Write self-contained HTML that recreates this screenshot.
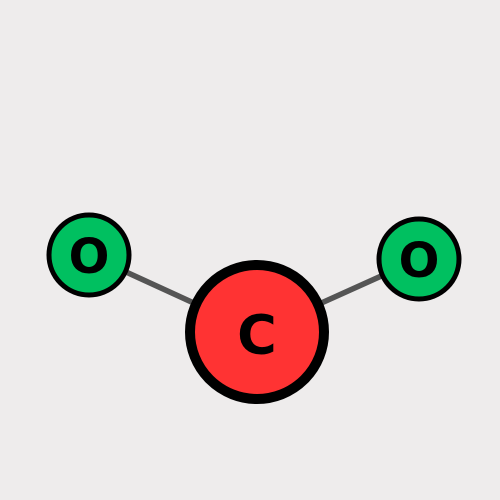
<!DOCTYPE html>
<html><head><meta charset="utf-8"><style>
html,body{margin:0;padding:0;background:#eeecec;}
svg{display:block;}
text{font-family:"DejaVu Sans","Liberation Sans",sans-serif;font-weight:bold;}
</style></head><body>
<svg id="chart" width="500" height="500" xmlns="http://www.w3.org/2000/svg">
<rect width="500" height="500" fill="#eeecec"/>
<g id="edges"></g>
<g id="nodes"></g>
</svg>
<script>
const atomLabels = ["O", "C", "O"];
const atomX = [89, 257, 419];
const atomY = [255, 332, 259];
const atomRadius = [40, 67, 40];
const atomColor = ["#00c060", "#ff3333", "#00c060"];
const bondFrom = [0, 1];
const bondTo = [1, 2];

const NS = "http://www.w3.org/2000/svg";
const eg = document.getElementById("edges");
const ng = document.getElementById("nodes");
for (let i = 0; i < bondFrom.length; i++) {
  const l = document.createElementNS(NS, "line");
  l.setAttribute("x1", atomX[bondFrom[i]]);
  l.setAttribute("y1", atomY[bondFrom[i]]);
  l.setAttribute("x2", atomX[bondTo[i]]);
  l.setAttribute("y2", atomY[bondTo[i]]);
  l.setAttribute("stroke", "#555555");
  l.setAttribute("stroke-width", "5.5");
  
  
  eg.appendChild(l);
}
for (let i = 0; i < atomLabels.length; i++) {
  const g = document.createElementNS(NS, "g");
  
  
  const big = atomRadius[i] > 50;
  const c = document.createElementNS(NS, "circle");
  c.setAttribute("cx", atomX[i]);
  c.setAttribute("cy", atomY[i]);
  c.setAttribute("r", atomRadius[i]);
  c.setAttribute("fill", atomColor[i]);
  c.setAttribute("stroke", "#000");
  c.setAttribute("stroke-width", big ? 10 : 5);
  
  
  g.appendChild(c);
  const t = document.createElementNS(NS, "text");
  t.setAttribute("x", atomX[i]);
  t.setAttribute("y", atomY[i] + (big ? 3 : 2));
  t.setAttribute("text-anchor", "middle");
  t.setAttribute("dominant-baseline", "central");
  t.setAttribute("font-size", big ? 54 : 48);
  t.setAttribute("fill", "#000");
  t.textContent = atomLabels[i];
  
  
  g.appendChild(t);
  ng.appendChild(g);
}
</script>
</body></html>
